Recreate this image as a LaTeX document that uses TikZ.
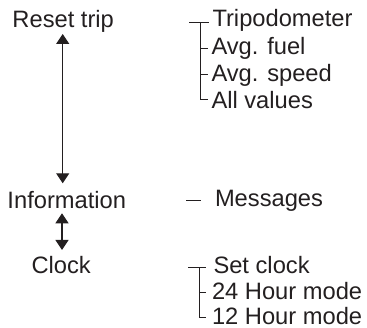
\documentclass[tikz,border=0pt]{standalone}
\usepackage{fontspec}
\setmainfont{Liberation Sans}
\usetikzlibrary{arrows.meta}
\definecolor{ink}{RGB}{35,31,32}
\begin{document}
\begin{tikzpicture}[x=1pt,y=-1pt,
  lbl/.style={anchor=base west,inner sep=0pt,outer sep=0pt,text=ink,font=\fontsize{23.7}{28}\selectfont},
  brk/.style={draw=ink,line width=1pt},
  dblarrow/.style={draw=ink,line width=1.1pt,{Triangle[length=10pt,width=13pt]}-{Triangle[length=10pt,width=13pt]}}]
\useasboundingbox (0,0) rectangle (367,328);
% left column
\node[lbl] (reset) at (12.5,27.5) {Reset trip};
\node[lbl] (info) at (7.5,208.3) {Information};
\node[lbl] (clock) at (31.5,273.5) {Clock};
\coordinate (a1) at (62.7,34);
\coordinate (a2) at (62.7,183.3);
\coordinate (b1) at (62,213.3);
\coordinate (b2) at (62,250);
\draw[dblarrow] (a1) -- (a2);
\draw[dblarrow] (b1) -- (b2);
% right column, top group
\node[lbl] (trip) at (212.5,26.7) {Tripodometer};
\node[lbl] (fuel) at (211.5,55) {Avg. fuel};
\node[lbl] (speed) at (211.5,81.7) {Avg. speed};
\node[lbl] (all) at (211.5,108.3) {All values};
\coordinate (t0) at (189,22.3);
\coordinate (t1) at (209,22.3);
\coordinate (tv) at (200.5,22.3);
\coordinate (tf) at (200.5,48.3);
\coordinate (ts) at (200.5,75);
\coordinate (ta) at (200.5,100);
\draw[brk] (t0) -- (t1);
\draw[brk] (tv) -- (ta) -- ++(7.5,0);
\draw[brk] (tf) -- ++(7.5,0);
\draw[brk] (ts) -- ++(7.5,0);
% messages
\node[lbl] (msg) at (215,206.7) {Messages};
\coordinate (m0) at (186,200.7);
\coordinate (m1) at (201,200.7);
\draw[brk] (m0) -- (m1);
% right column, bottom group
\node[lbl] (set) at (213.5,273.5) {Set clock};
\node[lbl] (h24) at (212,300) {24 Hour mode};
\node[lbl] (h12) at (212,324.5) {12 Hour mode};
\coordinate (c0) at (188,268);
\coordinate (c1) at (206,268);
\coordinate (cv) at (199,268);
\coordinate (c24) at (199,293);
\coordinate (c12) at (199,318);
\draw[brk] (c0) -- (c1);
\draw[brk] (cv) -- (c12) -- ++(7,0);
\draw[brk] (c24) -- ++(7,0);
\end{tikzpicture}
\end{document}
